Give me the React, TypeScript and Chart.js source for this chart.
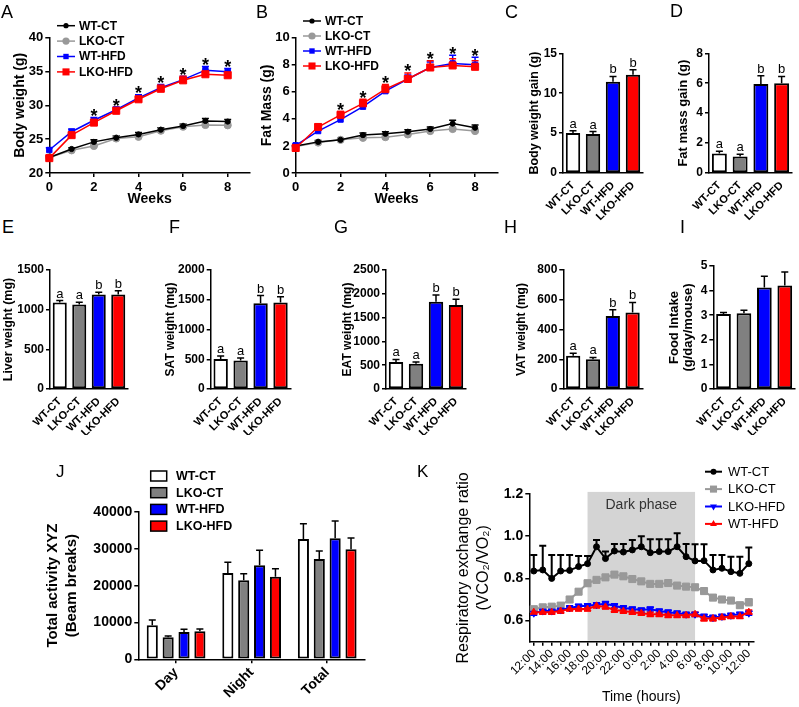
import React, { useEffect, useRef } from 'react';
import { Chart, registerables } from 'chart.js';

Chart.register(...registerables);

const FONT = "'Liberation Sans', Arial, Helvetica, sans-serif";
Chart.defaults.font.family = FONT;
Chart.defaults.color = '#000';

// ---------------- data ----------------
const groups = ['WT-CT', 'LKO-CT', 'WT-HFD', 'LKO-HFD'];
const barFill = ['#ffffff', '#808080', '#0000ff', '#ff0000'];
const lineColors = ['#000000', '#999999', '#0000ff', '#ff0000'];

// A: body weight
const weeks = [0, 1, 2, 3, 4, 5, 6, 7, 8];
const weekTicks = [0, 2, 4, 6, 8];
const bwTicks = [20, 25, 30, 35, 40];
const bwWTCT = [22.3, 23.55, 24.6, 25.2, 25.7, 26.4, 26.95, 27.7, 27.6];
const bwLKOCT = [22.3, 23.35, 24.0, 25.1, 25.35, 26.25, 26.85, 27.1, 27.05];
const bwWTHFD = [23.4, 26.1, 27.8, 29.35, 31.1, 32.6, 33.8, 35.2, 34.95];
const bwLKOHFD = [22.2, 25.6, 27.45, 29.2, 30.9, 32.45, 33.7, 34.6, 34.45];
const bwWTCTErr = [0.2, 0.2, 0.3, 0.3, 0.3, 0.3, 0.3, 0.35, 0.3];
const bwLKOCTErr = [0.2, 0.25, 0.3, 0.3, 0.3, 0.3, 0.3, 0.3, 0.3];
const bwWTHFDErr = [0.35, 0.4, 0.4, 0.4, 0.45, 0.5, 0.5, 0.55, 0.5];
const bwLKOHFDErr = [0.3, 0.4, 0.45, 0.5, 0.5, 0.55, 0.6, 0.6, 0.55];
const bwStars = ['', '', '*', '*', '*', '*', '*', '*', '*'];

// B: fat mass
const fmTicks = [0, 2, 4, 6, 8, 10];
const fmWTCT = [2.0, 2.3, 2.45, 2.8, 2.9, 3.05, 3.25, 3.65, 3.35];
const fmLKOCT = [1.95, 2.25, 2.45, 2.6, 2.65, 2.85, 3.1, 3.25, 3.1];
const fmWTHFD = [2.05, 3.1, 3.95, 4.9, 6.05, 6.95, 7.8, 8.1, 8.0];
const fmLKOHFD = [1.85, 3.4, 4.3, 5.15, 6.2, 6.95, 7.8, 7.95, 7.85];
const fmWTCTErr = [0.1, 0.1, 0.1, 0.15, 0.15, 0.15, 0.15, 0.25, 0.2];
const fmLKOCTErr = [0.1, 0.1, 0.1, 0.12, 0.12, 0.12, 0.12, 0.15, 0.15];
const fmWTHFDErr = [0.1, 0.15, 0.2, 0.2, 0.25, 0.3, 0.4, 0.6, 0.55];
const fmLKOHFDErr = [0.1, 0.2, 0.25, 0.3, 0.35, 0.45, 0.5, 0.5, 0.45];
const fmStars = ['', '', '*', '*', '*', '*', '*', '*', '*'];

// C - I: bar panels
const gainBW = [5.0, 4.9, 11.45, 12.3];
const gainBWErr = [0.3, 0.3, 0.65, 0.65];
const gainBWTicks = [0, 5, 10, 15];
const gainFM = [1.3, 1.1, 5.95, 6.0];
const gainFMErr = [0.15, 0.15, 0.55, 0.45];
const gainFMTicks = [0, 2, 4, 6, 8];
const liver = [1090, 1065, 1190, 1190];
const liverErr = [25, 30, 30, 50];
const liverTicks = [0, 500, 1000, 1500];
const sat = [505, 480, 1440, 1455];
const satErr = [50, 40, 130, 95];
const satTicks = [0, 500, 1000, 1500, 2000];
const eat = [565, 530, 1835, 1765];
const eatErr = [55, 35, 140, 120];
const eatTicks = [0, 500, 1000, 1500, 2000, 2500];
const vat = [224, 200, 490, 515];
const vatErr = [16, 12, 42, 67];
const vatTicks = [0, 200, 400, 600, 800];
const food = [3.05, 3.08, 4.13, 4.21];
const foodErr = [0.06, 0.12, 0.45, 0.55];
const foodTicks = [0, 1, 2, 3, 4, 5];
const sigLetters = ['a', 'a', 'b', 'b'];

// J: activity
const periods = ['Day', 'Night', 'Total'];
const actTicks = [0, 10000, 20000, 30000, 40000];
const actWTCT = [9230, 23440, 32670];
const actLKOCT = [5970, 21450, 27240];
const actWTHFD = [7420, 25520, 32850];
const actLKOHFD = [7600, 22440, 29860];
const actWTCTErr = [1450, 2900, 4160];
const actLKOCTErr = [360, 1800, 2170];
const actWTHFDErr = [720, 4080, 4700];
const actLKOHFDErr = [630, 2180, 3080];

// K: RER
const timeLabels = ['12:00', '13:00', '14:00', '15:00', '16:00', '17:00', '18:00', '19:00', '20:00', '21:00', '22:00', '23:00', '0:00', '1:00', '2:00', '3:00', '4:00', '5:00', '6:00', '7:00', '8:00', '9:00', '10:00', '11:00', '12:00'];
const rerTicks = [0.6, 0.8, 1.0, 1.2];
const rerWTCT = [0.835, 0.84, 0.80, 0.835, 0.838, 0.856, 0.87, 0.95, 0.894, 0.93, 0.925, 0.935, 0.95, 0.922, 0.927, 0.927, 0.95, 0.903, 0.883, 0.884, 0.84, 0.848, 0.832, 0.824, 0.87];
const rerWTCTErr = [0.076, 0.115, 0.111, 0.076, 0.073, 0.05, 0.036, 0.032, 0.033, 0.033, 0.038, 0.047, 0.05, 0.063, 0.058, 0.058, 0.064, 0.06, 0.079, 0.078, 0.071, 0.063, 0.071, 0.079, 0.077];
const rerLKOCT = [0.654, 0.663, 0.666, 0.671, 0.70, 0.737, 0.777, 0.793, 0.805, 0.818, 0.81, 0.797, 0.786, 0.774, 0.774, 0.778, 0.766, 0.761, 0.758, 0.74, 0.709, 0.70, 0.695, 0.673, 0.687];
const rerLKOCTErr = [0.012, 0.012, 0.012, 0.012, 0.012, 0.012, 0.012, 0.012, 0.012, 0.012, 0.012, 0.012, 0.012, 0.01, 0.01, 0.01, 0.01, 0.01, 0.012, 0.012, 0.012, 0.012, 0.012, 0.012, 0.015];
const rerLKOHFD = [0.635, 0.645, 0.645, 0.65, 0.66, 0.668, 0.67, 0.675, 0.68, 0.67, 0.66, 0.655, 0.65, 0.655, 0.645, 0.64, 0.635, 0.63, 0.63, 0.62, 0.615, 0.62, 0.625, 0.63, 0.635];
const rerLKOHFDErr = [0.01, 0.01, 0.01, 0.01, 0.01, 0.01, 0.01, 0.01, 0.01, 0.01, 0.01, 0.01, 0.01, 0.01, 0.01, 0.01, 0.01, 0.01, 0.01, 0.01, 0.01, 0.01, 0.01, 0.01, 0.01];
const rerWTHFD = [0.64, 0.64, 0.64, 0.645, 0.655, 0.655, 0.655, 0.67, 0.665, 0.65, 0.645, 0.64, 0.635, 0.63, 0.63, 0.625, 0.625, 0.625, 0.63, 0.61, 0.61, 0.615, 0.62, 0.62, 0.64];
const rerWTHFDErr = [0.01, 0.01, 0.01, 0.01, 0.01, 0.01, 0.01, 0.01, 0.01, 0.01, 0.01, 0.01, 0.01, 0.01, 0.01, 0.01, 0.01, 0.01, 0.01, 0.012, 0.012, 0.01, 0.01, 0.01, 0.01];
const darkPhaseRange = ['18:00', '6:00'];

// ---------------- plugins ----------------
const valOf = (raw: any) => (typeof raw === 'number' ? raw : raw.y);

const errorBars = {
  id: 'errorBars',
  beforeDatasetsDraw(chart: any) {
    const { ctx } = chart;
    chart.data.datasets.forEach((ds: any, di: number) => {
      if (!ds.errors) return;
      const meta = chart.getDatasetMeta(di);
      const ys = chart.scales[meta.yAxisID];
      ctx.save();
      ctx.strokeStyle = ds.errColor || '#000';
      ctx.lineWidth = ds.errWidth || 1.5;
      meta.data.forEach((el: any, i: number) => {
        const v = valOf(ds.data[i]);
        const e = ds.errors[i];
        if (!e) return;
        const x = el.x;
        const yt = ys.getPixelForValue(v + e);
        const yb = ys.getPixelForValue(ds.errBoth ? v - e : v);
        const c = ds.capHalf ?? 4;
        ctx.beginPath();
        ctx.moveTo(x, yb);
        ctx.lineTo(x, yt);
        ctx.moveTo(x - c, yt);
        ctx.lineTo(x + c, yt);
        if (ds.errBoth) {
          ctx.moveTo(x - c, yb);
          ctx.lineTo(x + c, yb);
        }
        ctx.stroke();
      });
      ctx.restore();
    });
  },
};

const marks = {
  id: 'marks',
  afterDatasetsDraw(chart: any, _args: any, o: any) {
    if (!o || !o.labels) return;
    const { ctx } = chart;
    const ys = chart.scales.y;
    ctx.save();
    ctx.font = o.font;
    ctx.fillStyle = '#000';
    ctx.textAlign = 'center';
    ctx.textBaseline = 'alphabetic';
    o.labels.forEach((t: string, i: number) => {
      if (!t) return;
      let top = -Infinity;
      let x = 0;
      chart.data.datasets.forEach((ds: any, di: number) => {
        const v = valOf(ds.data[i]);
        const e = ds.errors ? ds.errors[i] : 0;
        top = Math.max(top, v + e);
        x = chart.getDatasetMeta(di).data[i].x;
      });
      ctx.fillText(t, x, ys.getPixelForValue(top) - o.gap);
    });
    ctx.restore();
  },
};

function drawMarker(ctx: any, style: string, x: number, y: number, r: number, color: string, rot: number) {
  ctx.fillStyle = color;
  ctx.beginPath();
  if (style === 'rect') {
    const s = r * Math.SQRT1_2;
    ctx.rect(x - s, y - s, 2 * s, 2 * s);
  } else if (style === 'triangle') {
    const a0 = ((rot || 0) * Math.PI) / 180;
    for (let k = 0; k < 3; k++) {
      const a = a0 + (k * 2 * Math.PI) / 3;
      const px = x + Math.sin(a) * r;
      const py = y - Math.cos(a) * r;
      if (k) ctx.lineTo(px, py);
      else ctx.moveTo(px, py);
    }
    ctx.closePath();
  } else {
    ctx.arc(x, y, r, 0, Math.PI * 2);
  }
  ctx.fill();
}

const gLegend = {
  id: 'gLegend',
  afterDraw(chart: any, _args: any, o: any) {
    if (!o || !o.kind) return;
    const { ctx } = chart;
    ctx.save();
    ctx.font = o.font;
    ctx.textBaseline = 'middle';
    ctx.textAlign = 'left';
    chart.data.datasets.forEach((ds: any, i: number) => {
      const y = o.y + i * o.dy;
      if (o.kind === 'box') {
        ctx.fillStyle = ds.backgroundColor;
        ctx.fillRect(o.x, y - o.boxH / 2, o.boxW, o.boxH);
        ctx.strokeStyle = '#000';
        ctx.lineWidth = 1.5;
        ctx.strokeRect(o.x, y - o.boxH / 2, o.boxW, o.boxH);
      } else {
        ctx.strokeStyle = ds.borderColor;
        ctx.lineWidth = o.lineWidth;
        ctx.beginPath();
        ctx.moveTo(o.x, y);
        ctx.lineTo(o.x + o.lineLen, y);
        ctx.stroke();
        drawMarker(ctx, ds.pointStyle, o.x + o.lineLen / 2, y, ds.pointRadius, ds.borderColor, ds.pointRotation || 0);
      }
      ctx.fillStyle = '#000';
      ctx.fillText(ds.label, o.textX, y + 0.5);
    });
    ctx.restore();
  },
};

const darkPhase = {
  id: 'darkPhase',
  beforeDatasetsDraw(chart: any, _args: any, o: any) {
    if (!o || !o.from) return;
    const { ctx } = chart;
    const xs = chart.scales.x;
    const ys = chart.scales.y;
    const x0 = xs.getPixelForValue(timeLabels.indexOf(o.from));
    const x1 = xs.getPixelForValue(timeLabels.indexOf(o.to));
    const y0 = ys.getPixelForValue(o.top);
    const y1 = ys.bottom - 1;
    ctx.save();
    ctx.fillStyle = '#d4d4d4';
    ctx.fillRect(x0, y0, x1 - x0, y1 - y0);
    ctx.fillStyle = '#333';
    ctx.font = `14px ${FONT}`;
    ctx.textAlign = 'center';
    ctx.textBaseline = 'middle';
    ctx.fillText(o.text, (x0 + x1) / 2, y0 + 13);
    ctx.restore();
  },
};

// ---------------- helpers ----------------
type Box = { left: number; top: number; width: number; height: number };
type Area = { l: number; t: number; r: number; b: number };

function frame(box: Box, area: Area) {
  return {
    padding: { left: 0, top: area.t - box.top, right: box.left + box.width - area.r, bottom: 0 },
    yW: area.l - box.left,
    xH: box.top + box.height - area.b,
  };
}

const AX = '#000';
const gridOn = { display: true, drawOnChartArea: false, drawTicks: true, tickLength: 4, color: AX, lineWidth: 1.5 };
const borderOn = { display: true, color: AX, width: 1.5 };

function yScale(o: any) {
  const lh = o.lh || 1.2;
  return {
    type: 'linear',
    min: o.min,
    max: o.max,
    afterBuildTicks: (s: any) => {
      s.ticks = o.ticks.map((v: number) => ({ value: v }));
    },
    afterFit: (s: any) => {
      s.width = o.width;
    },
    ticks: { font: { size: o.tickSize, weight: 'bold' }, color: AX, padding: 2, callback: o.fmt || ((v: number) => String(v)) },
    grid: gridOn,
    border: borderOn,
    title: {
      display: true,
      text: o.title,
      color: AX,
      font: { size: o.titleSize, weight: o.titleWeight || 'bold', lineHeight: lh },
      padding: { top: o.titleCenter - o.boxLeft - (o.titleSize * lh) / 2, bottom: 0 },
    },
  };
}

function xCat(o: any) {
  const ticks: any = { font: { size: o.size, weight: o.weight || 'bold' }, color: AX, minRotation: 45, maxRotation: 45, autoSkip: false, padding: o.pad ?? 2 };
  if (o.callback) ticks.callback = o.callback;
  return {
    type: 'category',
    offset: true,
    afterFit: (s: any) => {
      s.height = o.height;
    },
    ticks,
    grid: { ...gridOn, display: !!o.tickMarks, offset: false },
    border: borderOn,
    title: o.title ? { display: true, text: o.title, color: AX, font: { size: o.titleSize, weight: 'normal' }, padding: { top: 0, bottom: o.titlePadB } } : { display: false },
  };
}

const baseOptions = (f: any) => ({
  responsive: false,
  animation: false,
  devicePixelRatio: 1,
  layout: { padding: f.padding, autoPadding: false },
  events: [],
});

function lineDs(label: string, ys: number[], errs: number[], color: string, style: string, r: number, order: number, extra: any = {}) {
  return {
    label,
    data: weeks.map((x, i) => ({ x, y: ys[i] })),
    errors: errs,
    errColor: color,
    capHalf: 3.5,
    borderColor: color,
    backgroundColor: color,
    pointBackgroundColor: color,
    pointBorderColor: color,
    pointStyle: style,
    pointRadius: r,
    pointBorderWidth: 1,
    borderWidth: 1.5,
    tension: 0,
    clip: false,
    order,
    ...extra,
  };
}

function weeksPanel(p: any) {
  return () => {
    const f = frame(p.box, p.area);
    return {
      type: 'line',
      data: {
        datasets: [
          lineDs('WT-CT', p.series[0], p.errs[0], lineColors[0], 'circle', 2.6, 2),
          lineDs('LKO-CT', p.series[1], p.errs[1], lineColors[1], 'circle', 3.6, 3),
          lineDs('WT-HFD', p.series[2], p.errs[2], lineColors[2], 'rect', 3.8, 1),
          lineDs('LKO-HFD', p.series[3], p.errs[3], lineColors[3], 'rect', 5, 0),
        ],
      },
      options: {
        ...baseOptions(f),
        plugins: {
          legend: { display: false },
          tooltip: { enabled: false },
          marks: { labels: p.stars, font: `bold 18px ${FONT}`, gap: -4.5 },
          gLegend: { kind: 'line', x: p.leg.x - p.box.left, y: p.leg.y - p.box.top, dy: p.leg.dy, lineLen: 18, lineWidth: 1.5, textX: p.leg.textX - p.box.left, font: `bold 12px ${FONT}` },
        },
        scales: {
          x: {
            type: 'linear',
            min: 0,
            max: 9,
            afterBuildTicks: (s: any) => {
              s.ticks = weekTicks.map((v) => ({ value: v }));
            },
            afterFit: (s: any) => {
              s.height = f.xH;
            },
            ticks: { font: { size: 13, weight: 'bold' }, color: AX, padding: 3, maxRotation: 0, autoSkip: false },
            grid: gridOn,
            border: borderOn,
            title: { display: true, text: 'Weeks', color: AX, font: { size: 14, weight: 'bold' }, padding: { top: 0, bottom: 2.6 } },
          },
          y: yScale({ min: p.min, max: p.max, ticks: p.ticks, width: f.yW, tickSize: 13, title: p.title, titleSize: 14, titleCenter: p.titleX, boxLeft: p.box.left }),
        },
      },
      plugins: [errorBars, marks, gLegend],
    };
  };
}

function barPanel(p: any) {
  return () => {
    const f = frame(p.box, p.area);
    return {
      type: 'bar',
      data: {
        labels: groups,
        datasets: [
          {
            data: p.values,
            errors: p.errors,
            backgroundColor: barFill,
            borderColor: '#000',
            borderWidth: 2,
            borderSkipped: false,
            barPercentage: 0.72,
            categoryPercentage: 1,
            capHalf: 3.5,
          },
        ],
      },
      options: {
        ...baseOptions(f),
        plugins: {
          legend: { display: false },
          tooltip: { enabled: false },
          marks: p.letters ? { labels: p.letters, font: `13px ${FONT}`, gap: 3 } : false,
        },
        scales: {
          x: xCat({ height: f.xH, size: 11 }),
          y: yScale({ min: p.min, max: p.max, ticks: p.ticks, width: f.yW, tickSize: 12, title: p.title, titleSize: p.titleSize, titleCenter: p.titleX, boxLeft: p.box.left, lh: p.lh }),
        },
      },
      plugins: [errorBars, marks],
    };
  };
}

// ---------------- panels ----------------
const boxA = { left: 0, top: 0, width: 258, height: 210 };
const makeA = weeksPanel({
  box: boxA,
  area: { l: 49.3, t: 37.7, r: 250, b: 173 },
  series: [bwWTCT, bwLKOCT, bwWTHFD, bwLKOHFD],
  errs: [bwWTCTErr, bwLKOCTErr, bwWTHFDErr, bwLKOHFDErr],
  stars: bwStars,
  min: 20,
  max: 40,
  ticks: bwTicks,
  title: 'Body weight (g)',
  titleX: 20,
  leg: { x: 57, y: 25.7, dy: 15.4, textX: 79 },
});

const boxB = { left: 255, top: 0, width: 250, height: 210 };
const makeB = weeksPanel({
  box: boxB,
  area: { l: 295.7, t: 37.7, r: 497.5, b: 173 },
  series: [fmWTCT, fmLKOCT, fmWTHFD, fmLKOHFD],
  errs: [fmWTCTErr, fmLKOCTErr, fmWTHFDErr, fmLKOHFDErr],
  stars: fmStars,
  min: 0,
  max: 10,
  ticks: fmTicks,
  title: 'Fat Mass (g)',
  titleX: 267,
  leg: { x: 303, y: 21, dy: 15, textX: 325 },
});

const boxC = { left: 520, top: 40, width: 135, height: 185 };
const makeC = barPanel({ box: boxC, area: { l: 563, t: 53.3, r: 643, b: 173 }, values: gainBW, errors: gainBWErr, letters: sigLetters, min: 0, max: 15, ticks: gainBWTicks, title: 'Body weight gain (g)', titleSize: 12.5, titleX: 535 });

const boxD = { left: 668, top: 40, width: 131, height: 185 };
const makeD = barPanel({ box: boxD, area: { l: 709, t: 53.3, r: 792, b: 173 }, values: gainFM, errors: gainFMErr, letters: sigLetters, min: 0, max: 8, ticks: gainFMTicks, title: 'Fat mass gain (g)', titleSize: 13, titleX: 683.3 });

const boxE = { left: 0, top: 255, width: 140, height: 180 };
const makeE = barPanel({ box: boxE, area: { l: 50, t: 270, r: 128, b: 389 }, values: liver, errors: liverErr, letters: sigLetters, min: 0, max: 1500, ticks: liverTicks, title: 'Liver weight (mg)', titleSize: 12.5, titleX: 9 });

const boxF = { left: 160, top: 255, width: 140, height: 180 };
const makeF = barPanel({ box: boxF, area: { l: 210.7, t: 270, r: 290.5, b: 389 }, values: sat, errors: satErr, letters: sigLetters, min: 0, max: 2000, ticks: satTicks, title: 'SAT weight (mg)', titleSize: 12, titleX: 171 });

const boxG = { left: 330, top: 255, width: 145, height: 180 };
const makeG = barPanel({ box: boxG, area: { l: 386, t: 270, r: 466, b: 389 }, values: eat, errors: eatErr, letters: sigLetters, min: 0, max: 2500, ticks: eatTicks, title: 'EAT weight (mg)', titleSize: 12, titleX: 347.5 });

const boxH = { left: 505, top: 255, width: 148, height: 180 };
const makeH = barPanel({ box: boxH, area: { l: 563.3, t: 270, r: 642.5, b: 389 }, values: vat, errors: vatErr, letters: sigLetters, min: 0, max: 800, ticks: vatTicks, title: 'VAT weight (mg)', titleSize: 12, titleX: 522 });

const boxI = { left: 660, top: 255, width: 139, height: 180 };
const makeI = barPanel({ box: boxI, area: { l: 713.3, t: 266, r: 795, b: 389 }, values: food, errors: foodErr, letters: null, min: 0, max: 5, ticks: foodTicks, title: ['Food Intake', '(g/day/mouse)'], titleSize: 13, lh: 1.1, titleX: 674.5 });

const boxJ = { left: 40, top: 455, width: 330, height: 252 };
const makeJ = () => {
  const f = frame(boxJ, { l: 138.3, t: 512, r: 365, b: 659.3 });
  const vals = [actWTCT, actLKOCT, actWTHFD, actLKOHFD];
  const errs = [actWTCTErr, actLKOCTErr, actWTHFDErr, actLKOHFDErr];
  return {
    type: 'bar',
    data: {
      labels: periods,
      datasets: groups.map((g, gi) => ({
        label: g,
        data: vals[gi],
        errors: errs[gi],
        backgroundColor: barFill[gi],
        borderColor: '#000',
        borderWidth: 2,
        borderSkipped: false,
        barPercentage: 0.7,
        categoryPercentage: 0.84,
        capHalf: 3.5,
      })),
    },
    options: {
      ...baseOptions(f),
      plugins: {
        legend: { display: false },
        tooltip: { enabled: false },
        gLegend: { kind: 'box', x: 150.7 - boxJ.left, y: 476 - boxJ.top, dy: 16.7, boxW: 16, boxH: 10, textX: 176 - boxJ.left, font: `bold 12.5px ${FONT}` },
      },
      scales: {
        x: xCat({ height: f.xH, size: 14, tickMarks: true, pad: 1 }),
        y: yScale({ min: 0, max: 40000, ticks: actTicks, width: f.yW, tickSize: 14, title: ['Total activity XYZ', '(Beam breaks)'], titleSize: 15, lh: 1.27, titleCenter: 53, boxLeft: boxJ.left }),
      },
    },
    plugins: [errorBars, gLegend],
  };
};

const boxK = { left: 445, top: 455, width: 354, height: 252 };
const makeK = () => {
  const f = frame(boxK, { l: 529.3, t: 494, r: 753.3, b: 641.7 });
  const common = { borderWidth: 2, pointBorderWidth: 1, tension: 0, clip: false, capHalf: 3.5 };
  return {
    type: 'line',
    data: {
      labels: timeLabels,
      datasets: [
        { ...common, label: 'WT-CT', data: rerWTCT, errors: rerWTCTErr, errColor: '#000', errWidth: 2, borderColor: '#000', backgroundColor: '#000', pointBackgroundColor: '#000', pointBorderColor: '#000', pointStyle: 'circle', pointRadius: 3, order: 0 },
        { ...common, label: 'LKO-CT', data: rerLKOCT, errors: rerLKOCTErr, errBoth: true, errColor: '#999999', borderColor: '#999999', backgroundColor: '#999999', pointBackgroundColor: '#999999', pointBorderColor: '#999999', pointStyle: 'rect', pointRadius: 5, order: 3 },
        { ...common, label: 'LKO-HFD', data: rerLKOHFD, errors: rerLKOHFDErr, errBoth: true, errColor: '#0000ff', borderColor: '#0000ff', backgroundColor: '#0000ff', pointBackgroundColor: '#0000ff', pointBorderColor: '#0000ff', pointStyle: 'triangle', pointRotation: 180, pointRadius: 4, order: 2 },
        { ...common, label: 'WT-HFD', data: rerWTHFD, errors: rerWTHFDErr, errBoth: true, errColor: '#ff0000', borderColor: '#ff0000', backgroundColor: '#ff0000', pointBackgroundColor: '#ff0000', pointBorderColor: '#ff0000', pointStyle: 'triangle', pointRadius: 4, order: 1 },
      ],
    },
    options: {
      ...baseOptions(f),
      plugins: {
        legend: { display: false },
        tooltip: { enabled: false },
        darkPhase: { from: darkPhaseRange[0], to: darkPhaseRange[1], top: 1.21, text: 'Dark phase' },
        gLegend: { kind: 'line', x: 705 - boxK.left, y: 471.7 - boxK.top, dy: 17.4, lineLen: 17, lineWidth: 2, textX: 728 - boxK.left, font: `13px ${FONT}` },
      },
      scales: {
        x: xCat({
          height: f.xH,
          size: 12,
          weight: 'normal',
          tickMarks: true,
          pad: 1,
          callback: (v: number) => (v % 2 === 0 ? timeLabels[v] : ''),
          title: 'Time (hours)',
          titleSize: 14,
          titlePadB: 1.6,
        }),
        y: yScale({ min: 0.5, max: 1.2, ticks: rerTicks, width: f.yW, tickSize: 14, fmt: (v: number) => v.toFixed(1), title: ['Respiratory exchange ratio', '(VCO\u2082/VO\u2082)'], titleSize: 16, titleWeight: 'normal', lh: 1.25, titleCenter: 464, boxLeft: boxK.left }),
      },
    },
    plugins: [darkPhase, errorBars, gLegend],
  };
};

const panels = [
  { key: 'A', box: boxA, make: makeA },
  { key: 'B', box: boxB, make: makeB },
  { key: 'C', box: boxC, make: makeC },
  { key: 'D', box: boxD, make: makeD },
  { key: 'E', box: boxE, make: makeE },
  { key: 'F', box: boxF, make: makeF },
  { key: 'G', box: boxG, make: makeG },
  { key: 'H', box: boxH, make: makeH },
  { key: 'I', box: boxI, make: makeI },
  { key: 'J', box: boxJ, make: makeJ },
  { key: 'K', box: boxK, make: makeK },
];

const panelLetters = [
  { t: 'A', x: 1, y: 2.7, s: 18 },
  { t: 'B', x: 256, y: 2.7, s: 18 },
  { t: 'C', x: 505, y: 2.7, s: 18 },
  { t: 'D', x: 670, y: 1.5, s: 18 },
  { t: 'E', x: 2, y: 217.7, s: 18 },
  { t: 'F', x: 169, y: 217.7, s: 18 },
  { t: 'G', x: 334, y: 217.7, s: 18 },
  { t: 'H', x: 504, y: 217.7, s: 18 },
  { t: 'I', x: 680, y: 217.7, s: 18 },
  { t: 'J', x: 56, y: 462.5, s: 17 },
  { t: 'K', x: 417, y: 462.5, s: 17 },
];

function ChartCanvas({ box, make }: { box: Box; make: () => any }) {
  const ref = useRef<HTMLCanvasElement>(null);
  useEffect(() => {
    const chart = new Chart(ref.current as HTMLCanvasElement, make());
    return () => chart.destroy();
  }, []);
  return (
    <canvas
      ref={ref}
      width={box.width}
      height={box.height}
      style={{ position: 'absolute', left: box.left, top: box.top, width: box.width, height: box.height }}
    />
  );
}

export default function App() {
  return (
    <div style={{ position: 'absolute', left: 0, top: 0, width: 799, height: 707, background: '#fff', overflow: 'hidden', fontFamily: FONT }}>
      {panels.map((p) => (
        <ChartCanvas key={p.key} box={p.box} make={p.make} />
      ))}
      {panelLetters.map((l) => (
        <div key={l.t} style={{ position: 'absolute', left: l.x, top: l.y, fontSize: l.s, lineHeight: 1, color: '#000' }}>
          {l.t}
        </div>
      ))}
    </div>
  );
}
